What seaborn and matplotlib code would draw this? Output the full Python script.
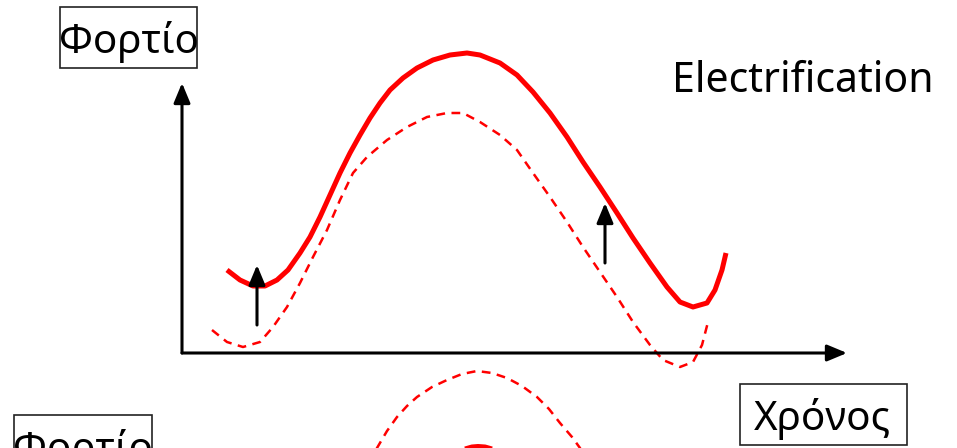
import matplotlib
matplotlib.use("Agg")
import matplotlib.pyplot as plt
import matplotlib.patches as mpatches
import pandas as pd
import seaborn as sns

sns.set_theme(style="white")
plt.rcParams["font.family"] = ["Noto Sans", "DejaVu Sans"]

RED = "#ff0000"

# Load profile after electrification (solid)
time_after = [45, 58, 71, 83, 95, 106, 118, 128, 138, 148, 158, 168, 178, 188,
              198, 208, 221, 235, 251, 268, 285, 298, 318, 335, 351, 368, 385,
              401, 418, 435, 451, 468, 485, 498, 511, 525, 533, 540, 544]
load_after = [83, 73, 67, 67, 73, 83, 100, 116, 136, 158, 180, 200, 218, 235,
              250, 263, 275, 285, 293, 298, 300, 298, 290, 278, 261, 240, 216,
              191, 166, 140, 115, 90, 66, 51, 46, 50, 63, 83, 100]

# Load profile before electrification (dashed)
time_before = [30, 45, 61, 78, 91, 105, 118, 131, 145, 158, 171, 185, 205, 225,
               245, 265, 281, 298, 318, 335, 351, 368, 385, 401, 418, 435, 451,
               468, 481, 498, 511, 520, 526]
load_before = [23, 11, 6, 11, 26, 46, 70, 96, 123, 153, 180, 196, 213, 226,
               236, 240, 240, 231, 218, 203, 180, 156, 131, 106, 81, 56, 31,
               8, -7, -14, -9, 8, 31]

# Second panel below (only its top is visible)
time_lower_dashed = [190, 195, 205, 215, 225, 235, 250, 265, 280, 295, 310, 325,
                     340, 355, 367, 378, 390, 398, 403]
load_lower_dashed = [-105, -95, -78, -64, -53, -44, -34, -27, -21, -18, -20,
                     -25, -33, -44, -56, -70, -84, -95, -105]
time_lower_solid = [268, 275, 283, 290, 296, 303, 310, 317, 324]
load_lower_solid = [-107, -100, -96, -94, -93.5, -94, -96, -100, -107]

# Chart frame (origin of the load/time axes)
x_axis_end = 665
y_axis_end = 270

fig = plt.figure(figsize=(9.57, 4.48), dpi=100)
ax = fig.add_axes([0, 0, 1, 1])
ax.set_xlim(-182, 775)
ax.set_ylim(-95, 353)
ax.set_axis_off()

df_after = pd.DataFrame({"t": time_after, "load": load_after})
df_before = pd.DataFrame({"t": time_before, "load": load_before})
df_ld = pd.DataFrame({"t": time_lower_dashed, "load": load_lower_dashed})
df_ls = pd.DataFrame({"t": time_lower_solid, "load": load_lower_solid})

solid_kw = dict(sort=False, estimator=None, color=RED, lw=3.6, ax=ax,
                solid_capstyle="butt", solid_joinstyle="round")
dash_kw = dict(sort=False, estimator=None, color=RED, lw=1.8, ax=ax,
               linestyle=(0, (3.5, 2.6)), dash_joinstyle="round")

sns.lineplot(data=df_after, x="t", y="load", **solid_kw)
sns.lineplot(data=df_before, x="t", y="load", **dash_kw)
sns.lineplot(data=df_ld, x="t", y="load", **dash_kw)
sns.lineplot(data=df_ls, x="t", y="load", **solid_kw)

arrow_style = "-|>,head_length=0.6,head_width=0.25"


def arrow(x0, y0, x1, y1):
    ax.annotate("", xy=(x1, y1), xytext=(x0, y0),
                arrowprops=dict(arrowstyle=arrow_style, lw=2.2, color="black",
                                mutation_scale=20, shrinkA=0, shrinkB=0))


# Axes of the diagram
arrow(0, 0, x_axis_end, 0)
arrow(0, 0, 0, y_axis_end)
# Load increase markers
arrow(75, 28, 75, 88)
arrow(423, 90, 423, 150)
# Top of the lower panel's load axis
arrow(-2, -130, -2, -93)


def boxed_label(text, x0, y0, w, h, tx, ty):
    ax.add_patch(mpatches.Rectangle((x0, y0), w, h, fill=False,
                                    edgecolor="#222222", lw=1.2))
    ax.text(tx, ty, text, fontsize=29, ha="center", va="baseline",
            color="black")


boxed_label("Φορτίο", -122, 285, 137, 61, -53.5, 300)
boxed_label("Χρόνος", 558, -92, 167, 61, 640, -77)
boxed_label("Φορτίο", -168, -123, 138, 61, -99, -108)

ax.text(620.5, 261, "Electrification", fontsize=29.5, ha="center",
        va="baseline", color="black")

fig.savefig("out.png", dpi=100, facecolor="white")
